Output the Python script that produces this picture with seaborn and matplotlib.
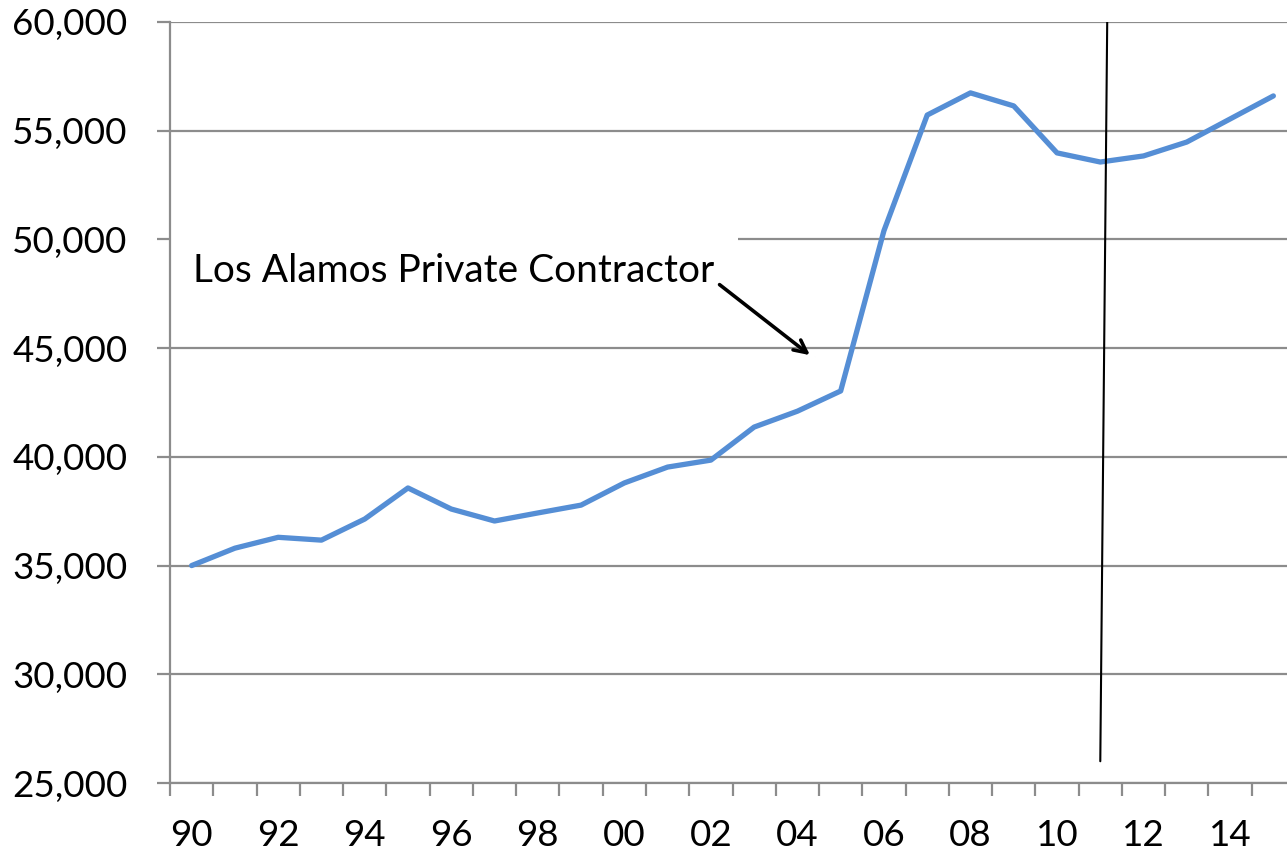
import matplotlib
matplotlib.use("Agg")
import matplotlib.pyplot as plt
import seaborn as sns
import pandas as pd

# Annual values, 1990-2015
years = list(range(1990, 2016))
values = [35000, 35800, 36300, 36170, 37140, 38570, 37600, 37050, 37420, 37780,
          38800, 39530, 39850, 41370, 42100, 43030, 50400, 55720, 56740, 56140,
          53980, 53560, 53840, 54480, 55540, 56600]
year_labels = [f"{y % 100:02d}" for y in years]

y_ticks = [25000, 30000, 35000, 40000, 45000, 50000, 55000, 60000]

note_text = "Los Alamos Private Contractor"

sns.set_style("white")
plt.rcParams["font.family"] = ["Lato", "DejaVu Sans"]

df = pd.DataFrame({"idx": range(len(years)), "value": values})

fig = plt.figure(figsize=(12.87, 8.57), dpi=100)
# plot area runs slightly past the right edge of the canvas
ax = fig.add_axes([170 / 1287, 1 - 783 / 857, 1125 / 1287, 761 / 857])

grid_color = "#8c8c8c"

sns.lineplot(data=df, x="idx", y="value", ax=ax, color="#558ed5",
             linewidth=3.8, zorder=4, solid_capstyle="round", solid_joinstyle="round")

ax.set_xlim(-0.5, len(years) - 0.5)
ax.set_ylim(25000, 60000)

# y axis: gridlines at every tick, gray outward ticks
ax.set_yticks(y_ticks)
ax.set_yticklabels([f"{v:,}" for v in y_ticks])
ax.yaxis.grid(True, color=grid_color, linewidth=1.6)
ax.set_axisbelow(True)
ax.tick_params(axis="y", length=9.5, width=1.6, color=grid_color,
               pad=21, labelsize=26.5, labelcolor="black", direction="out", left=True)

# x axis: labels every other year, tick marks between categories
ax.set_xticks(range(0, len(years), 2))
ax.set_xticklabels(year_labels[::2])
ax.set_xticks([i - 0.5 for i in range(len(years) + 1)], minor=True)
ax.tick_params(axis="x", which="major", length=0, pad=26, labelsize=26.5, labelcolor="black")
ax.tick_params(axis="x", which="minor", length=9.5, width=1.6, color=grid_color,
               direction="out", bottom=True)

for side in ("top", "right"):
    ax.spines[side].set_visible(False)
for side in ("left", "bottom"):
    ax.spines[side].set_color(grid_color)
    ax.spines[side].set_linewidth(1.6)
    ax.spines[side].set_zorder(3.5)

ax.set_xlabel("")
ax.set_ylabel("")

# label with arrow
ax.text(0.03, 48550, note_text, fontsize=28, va="center", ha="left", zorder=3,
        color="black",
        bbox=dict(boxstyle="square,pad=0.62", fc="white", ec="none"))
ax.annotate("", xy=(14.34, 44600), xytext=(12.15, 48000),
            arrowprops=dict(arrowstyle="->,head_length=0.9,head_width=0.45",
                            color="black", lw=2.6), zorder=5)

# marker line
ax.plot([21.16, 21.0], [60000, 26000], color="black", linewidth=1.5, zorder=6)

fig.savefig("out.png", dpi=100)
